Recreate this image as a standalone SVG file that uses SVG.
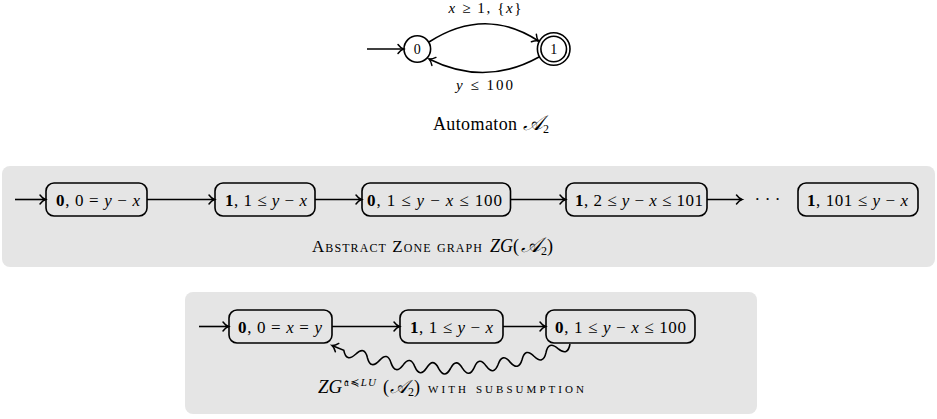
<svg xmlns="http://www.w3.org/2000/svg" width="937" height="419" viewBox="0 0 937 419">
<style>
.t{font-family:"Liberation Serif","DejaVu Serif","DejaVu Sans",serif;fill:#000}
.m{font-style:italic}
.b{font-weight:bold}
.sc{font-variant:small-caps}
.cal{font-size:21px}
.box{fill:none;stroke:#000;stroke-width:1.6}
.edge{fill:none;stroke:#000;stroke-width:1.6;marker-end:url(#to)}
.panel{fill:#e5e5e5}
</style>
<defs>
<marker id="to" markerUnits="userSpaceOnUse" viewBox="-7 -6 9 12" refX="0" refY="0" markerWidth="9" markerHeight="12" orient="auto" overflow="visible">
<path d="M-5.5,-4.5 C-3.5,-1.8 -1.5,-0.5 0,0 C-1.5,0.5 -3.5,1.8 -5.5,4.5" fill="none" stroke="#000" stroke-width="1.5" stroke-linecap="round"/>
</marker>
</defs>

<!-- panels -->
<rect class="panel" x="2" y="166" width="933" height="101" rx="8"/>
<rect class="panel" x="185" y="292" width="572" height="122" rx="8"/>

<!-- automaton -->
<g id="s0">
<circle cx="417.3" cy="49" r="13.3" fill="#fff" stroke="#000" stroke-width="1.6"/>
<text class="t" x="417.3" y="54" font-size="14" text-anchor="middle">0</text>
</g>
<g id="s1">
<circle cx="553.7" cy="49" r="16.3" fill="#fff" stroke="#000" stroke-width="1.6"/>
<circle cx="553.7" cy="49" r="12.8" fill="none" stroke="#000" stroke-width="1.6"/>
<text class="t" x="553.7" y="54" font-size="14" text-anchor="middle">1</text>
</g>

<g id="connectors">
<path class="edge" d="M367,49 H403.5"/>
<path class="edge" d="M429,42 Q485,6 538.5,41"/>
<path class="edge" d="M539,57 Q485,87 429,59"/>
<path class="edge" d="M15,199.5 H45.5"/>
<path class="edge" d="M147,199.5 H214.5"/>
<path class="edge" d="M315,199.5 H361.5"/>
<path class="edge" d="M510.5,199.5 H565.5"/>
<path class="edge" d="M707,199.5 H742"/>
<path class="edge" d="M199,326.5 H228.5"/>
<path class="edge" d="M332,326.5 H399.5"/>
<path class="edge" d="M503,326.5 H545.5"/>
<path class="edge" d="M570,344 Q567.9,356.6 558.0,348.57 Q548.4,340.3 546.0,352.66 Q543.2,365.1 534.0,356.29 Q525.3,347.3 522.1,359.44 Q518.5,371.6 510.1,362.13 Q502.2,352.5 498.2,364.34 Q493.8,376.2 486.2,366.09 Q479.1,355.8 474.3,367.36 Q469.1,378.8 462.4,368.17 Q456.2,357.4 450.5,368.5 Q444.5,379.5 438.6,368.37 Q433.3,357.1 426.7,367.76 Q419.8,378.2 414.8,366.69 Q410.3,355.1 403.0,365.14 Q395.3,375.0 391.1,363.13 Q387.5,351.2 379.3,360.64 Q370.7,369.9 367.4,357.69 Q364.6,345.5 355.6,354.26 Q346.3,362.8 343.8,350.37 L332,345.5"/>
</g>

<g id="labels-automaton">
<text class="t" x="485" y="13" font-size="15" text-anchor="middle" textLength="73" lengthAdjust="spacing"><tspan class="m">x</tspan> ≥ 1, {<tspan class="m">x</tspan>}</text>
<text class="t" x="484.5" y="90" font-size="15" text-anchor="middle" textLength="57" lengthAdjust="spacing"><tspan class="m">y</tspan> ≤ 100</text>
<text class="t" x="433" y="130" font-size="18" textLength="84" lengthAdjust="spacing">Automaton</text>
<text class="t" x="523" y="130" font-size="18"><tspan class="m cal">𝒜</tspan><tspan font-size="12" dy="3">2</tspan></text>
</g>

<!-- abstract zone graph -->
<g id="z1"><rect class="box" x="46" y="183" width="101" height="33" rx="8"/>
<text class="t" x="98" y="206" font-size="17" text-anchor="middle" textLength="84" lengthAdjust="spacing"><tspan class="b">0</tspan>, 0 = <tspan class="m">y</tspan> − <tspan class="m">x</tspan></text></g>
<g id="z2"><rect class="box" x="215" y="183" width="100" height="33" rx="8"/>
<text class="t" x="266" y="206" font-size="17" text-anchor="middle" textLength="82" lengthAdjust="spacing"><tspan class="b">1</tspan>, 1 ≤ <tspan class="m">y</tspan> − <tspan class="m">x</tspan></text></g>
<g id="z3"><rect class="box" x="362" y="183" width="148.5" height="33" rx="8"/>
<text class="t" x="434.5" y="206" font-size="17" text-anchor="middle" textLength="135" lengthAdjust="spacing"><tspan class="b">0</tspan>, 1 ≤ <tspan class="m">y</tspan> − <tspan class="m">x</tspan> ≤ 100</text></g>
<g id="z4"><rect class="box" x="566" y="183" width="141" height="33" rx="8"/>
<text class="t" x="639" y="206" font-size="17" text-anchor="middle" textLength="128" lengthAdjust="spacing"><tspan class="b">1</tspan>, 2 ≤ <tspan class="m">y</tspan> − <tspan class="m">x</tspan> ≤ 101</text></g>
<g id="dots"><text class="t" x="767.5" y="205" font-size="17" text-anchor="middle" textLength="26" lengthAdjust="spacing">· · ·</text></g>
<g id="z5"><rect class="box" x="798" y="183" width="120" height="33" rx="8"/>
<text class="t" x="857.5" y="206" font-size="17" text-anchor="middle" textLength="101" lengthAdjust="spacing"><tspan class="b">1</tspan>, 101 ≤ <tspan class="m">y</tspan> − <tspan class="m">x</tspan></text></g>
<g id="caption-zg">
<text class="t sc" x="312" y="252" font-size="17" textLength="170" lengthAdjust="spacing">Abstract Zone graph</text>
<text class="t" x="490" y="252" font-size="18"><tspan class="m">ZG</tspan>(<tspan class="m cal" dx="2">𝒜</tspan><tspan font-size="12" dy="3">2</tspan><tspan dy="-3">)</tspan></text>
</g>

<!-- subsumption graph -->
<g id="b1"><rect class="box" x="229" y="310" width="103" height="33" rx="8"/>
<text class="t" x="280" y="333" font-size="17" text-anchor="middle" textLength="84" lengthAdjust="spacing"><tspan class="b">0</tspan>, 0 = <tspan class="m">x</tspan> = <tspan class="m">y</tspan></text></g>
<g id="b2"><rect class="box" x="400" y="310" width="103" height="33" rx="8"/>
<text class="t" x="451.5" y="333" font-size="17" text-anchor="middle" textLength="83" lengthAdjust="spacing"><tspan class="b">1</tspan>, 1 ≤ <tspan class="m">y</tspan> − <tspan class="m">x</tspan></text></g>
<g id="b3"><rect class="box" x="546" y="310" width="149" height="33" rx="8"/>
<text class="t" x="620.5" y="333" font-size="17" text-anchor="middle" textLength="131" lengthAdjust="spacing"><tspan class="b">0</tspan>, 1 ≤ <tspan class="m">y</tspan> − <tspan class="m">x</tspan> ≤ 100</text></g>
<g id="caption-sub">
<text class="t m" x="318" y="393" font-size="19">ZG</text>
<text class="t" x="344" y="386" font-size="11" textLength="32" lengthAdjust="spacing">𝔞≼<tspan class="m">LU</tspan></text>
<text class="t" x="383" y="393" font-size="18">(<tspan class="m" font-size="19" dx="1">𝒜</tspan><tspan font-size="12" dy="3">2</tspan><tspan dy="-3">)</tspan></text>
<text class="t sc" x="428" y="393" font-size="16" textLength="156" lengthAdjust="spacing">with subsumption</text>
</g>
</svg>
